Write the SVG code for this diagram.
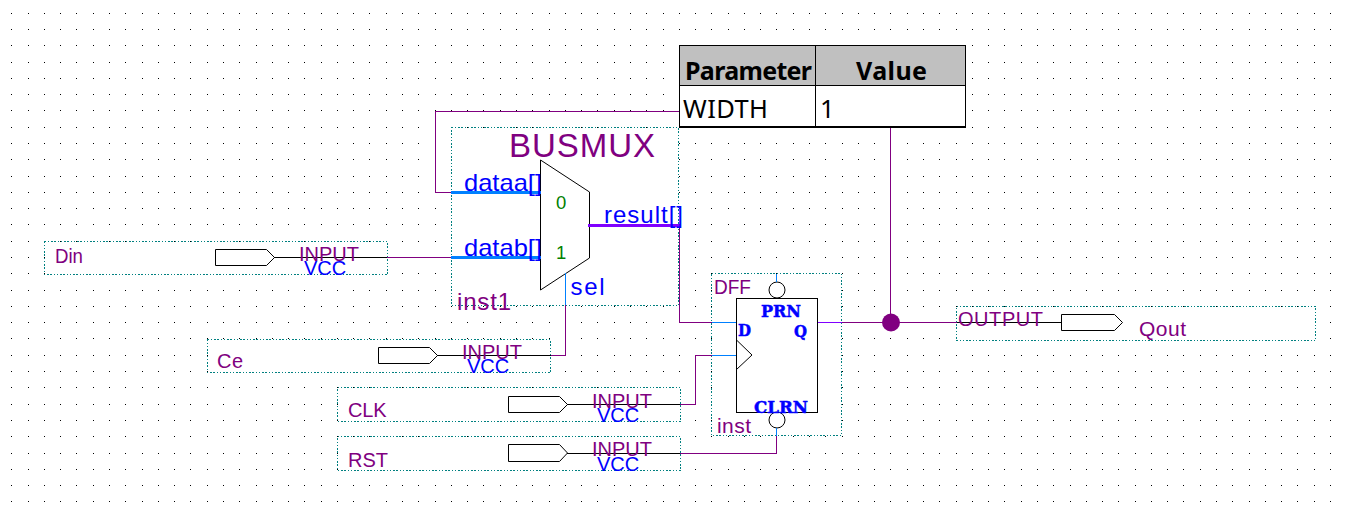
<svg xmlns="http://www.w3.org/2000/svg" width="1345" height="508" viewBox="0 0 1345 508">
<style>
text{font-family:"Liberation Sans",Arial,sans-serif;white-space:pre}
.box{fill:#fff;stroke:#008080;stroke-width:1;stroke-dasharray:1.5 1.75;shape-rendering:crispEdges}
.sym{fill:#fff;stroke:#000;stroke-width:1}
.ln{fill:none;stroke:#000;stroke-width:1}
.w{fill:none;stroke:#800080;stroke-width:1;shape-rendering:crispEdges}
.k{fill:none;stroke:#000;stroke-width:1;shape-rendering:crispEdges}
.b{fill:none;stroke:#0080ff;stroke-width:1;shape-rendering:crispEdges}
.bb{fill:none;stroke:#0080ff;stroke-width:3;shape-rendering:crispEdges}
.vb{fill:none;stroke:#8000ff;stroke-width:3;shape-rendering:crispEdges}
.v{fill:none;stroke:#8000ff;stroke-width:1;shape-rendering:crispEdges}
.p{fill:#800080;font-size:20px}
.u{fill:#0000ff;font-size:20px}
.port{fill:#0000ff;font-size:24px}
.g{fill:#008000;font-size:18.5px}
.m{fill:#0000ff;stroke:#0000ff;stroke-width:.5;font-family:"DejaVu Serif",serif;font-weight:700;font-size:17px}
.tb{fill:#000;font-family:"Noto Sans",sans-serif;font-size:25px;font-weight:700}
.t{fill:#000;font-family:"Noto Sans",sans-serif;font-size:25.5px}
</style>
<rect width="1345" height="508" fill="#fff"/>
<path id="grid" fill="none" stroke="#000" stroke-width="1" stroke-dasharray="1 15.28" shape-rendering="crispEdges" d="M11.3 13.5H1332M11.3 29.5H1332M11.3 45.5H1332M11.3 62.5H1332M11.3 78.5H1332M11.3 94.5H1332M11.3 110.5H1332M11.3 127.5H1332M11.3 143.5H1332M11.3 159.5H1332M11.3 176.5H1332M11.3 192.5H1332M11.3 208.5H1332M11.3 224.5H1332M11.3 241.5H1332M11.3 257.5H1332M11.3 273.5H1332M11.3 290.5H1332M11.3 306.5H1332M11.3 322.5H1332M11.3 338.5H1332M11.3 355.5H1332M11.3 371.5H1332M11.3 387.5H1332M11.3 404.5H1332M11.3 420.5H1332M11.3 436.5H1332M11.3 453.5H1332M11.3 469.5H1332M11.3 485.5H1332M11.3 501.5H1332"/>

<g id="node-din">
<rect class="box" x="44.5" y="241.5" width="343" height="33"/>
<path class="sym" d="M215.5 249.5H266.5L274.5 257.5L266.5 265.5H215.5Z"/>
<text class="p" x="55" y="262.5" style="font-size:21px" textLength="28" lengthAdjust="spacingAndGlyphs">Din</text>
</g>
<g id="node-ce">
<rect class="box" x="207.5" y="339.5" width="343" height="33"/>
<path class="sym" d="M378.5 347.5H429.5L437.5 355.5L429.5 363.5H378.5Z"/>
<text class="p" x="217" y="368" textLength="26" lengthAdjust="spacing">Ce</text>
</g>
<g id="node-clk">
<rect class="box" x="337.5" y="387.5" width="343" height="34"/>
<path class="sym" d="M508.5 396.5H559.5L567.5 404.5L559.5 412.5H508.5Z"/>
<text class="p" x="348" y="417" textLength="38.500" lengthAdjust="spacing">CLK</text>
</g>
<g id="node-rst">
<rect class="box" x="337.5" y="436.5" width="343" height="34"/>
<path class="sym" d="M508.5 444.5H559.5L567.5 453L559.5 461.5H508.5Z"/>
<text class="p" x="348" y="466.500" textLength="40" lengthAdjust="spacing">RST</text>
</g>
<g id="node-qout">
<rect class="box" x="956.5" y="306.5" width="359" height="34"/>
<path class="sym" d="M1061.5 314.5H1114.5L1122.5 322.5L1114.5 330.5H1061.5Z"/>
<text class="p" x="1139" y="336" style="font-size:21px" textLength="47" lengthAdjust="spacing">Qout</text>
</g>
<g id="node-busmux">
<rect class="box" x="451.5" y="127.5" width="227" height="178"/>
<path class="ln" d="M540.5 160L589.5 192V258L540.5 290Z"/>
</g>
<g id="node-dff">
<rect class="box" x="711.5" y="273.5" width="130" height="162"/>
<rect class="sym" x="736.5" y="298.5" width="81" height="114"/>
<path class="ln" d="M736.5 340L752 355L736.5 369.5"/>
<circle class="sym" cx="777" cy="290" r="8"/>
<circle class="sym" cx="777" cy="420" r="8"/>
</g>

<g id="connectors">
<path class="w" d="M679 111.500H435.500V192.500H451"/>
<path class="k" d="M274 257.500H387"/>
<path class="w" d="M387 257.500H451"/>
<path class="k" d="M437 355.500H551"/>
<path class="w" d="M551 355.500H565.500V305"/>
<path class="b" d="M565.500 305V273"/>
<path class="k" d="M567 404.500H680"/>
<path class="w" d="M680 404.500H695.500V355.500H712"/>
<path class="b" d="M712 355.500H736"/>
<path class="k" d="M567 453.500H680"/>
<path class="w" d="M680 453.500H776.500V436"/>
<path class="b" d="M776.500 436V428"/>
<path class="b" d="M776.500 282V273.500"/>
<path class="w" d="M679.500 226V322.500H712"/>
<path class="b" d="M712 322.500H736"/>
<path class="v" d="M818 322.500H842"/>
<path class="w" d="M842 322.500H957"/>
<path class="k" d="M957 322.500H1061"/>
<path class="w" d="M890.500 128V322"/>
<circle cx="891" cy="322.500" r="9" fill="#800080"/>
<path class="bb" d="M451 192.500H541"/>
<path class="bb" d="M451 257.500H541"/>
<path class="vb" d="M588 225.500H681"/>
</g>

<g id="labels">
<text class="p" x="299" y="261">INPUT</text>
<text class="u" x="304" y="275">VCC</text>
<text class="p" x="462" y="359">INPUT</text>
<text class="u" x="467" y="373">VCC</text>
<text class="p" x="592" y="408">INPUT</text>
<text class="u" x="597" y="422">VCC</text>
<text class="p" x="592" y="456">INPUT</text>
<text class="u" x="597" y="471">VCC</text>
<text class="p" x="958" y="326" textLength="85" lengthAdjust="spacing">OUTPUT</text>
<text x="509" y="157" fill="#800080" font-size="33" textLength="146" lengthAdjust="spacing">BUSMUX</text>
<text class="port" x="464" y="190.500" textLength="78" lengthAdjust="spacingAndGlyphs">dataa[]</text>
<text class="port" x="464" y="256" textLength="78" lengthAdjust="spacingAndGlyphs">datab[]</text>
<text class="port" x="604" y="223" textLength="79" lengthAdjust="spacing">result[]</text>
<text class="port" x="570.500" y="295" textLength="34" lengthAdjust="spacing">sel</text>
<text class="g" x="556" y="209">0</text>
<text class="g" x="556" y="259">1</text>
<text x="457" y="310" fill="#800080" font-size="24" textLength="54" lengthAdjust="spacing">inst1</text>
<text x="714" y="293.500" fill="#800080" font-size="20.500" textLength="37" lengthAdjust="spacingAndGlyphs">DFF</text>
<text x="717" y="433" fill="#800080" font-size="21" textLength="34" lengthAdjust="spacing">inst</text>
<text class="m" x="761" y="317" textLength="40" lengthAdjust="spacingAndGlyphs">PRN</text>
<text class="m" x="738" y="336" textLength="13" lengthAdjust="spacingAndGlyphs">D</text>
<text class="m" x="794" y="337" textLength="13" lengthAdjust="spacingAndGlyphs">Q</text>
<text class="m" x="754" y="413" textLength="54" lengthAdjust="spacingAndGlyphs">CLRN</text>
</g>

<g id="node-params">
<rect x="679.500" y="45.500" width="286" height="82" fill="#fff"/>
<rect x="679.500" y="45.500" width="286" height="40" fill="#c0c0c0"/>
<path class="k" d="M679.500 85.500H965.500M815.500 45.500V127"/>
<path class="k" d="M679.500 127V45.500H965.500V127"/>
<path fill="none" stroke="#000" stroke-width="2" shape-rendering="crispEdges" d="M679 127H966"/>
<text class="tb" x="685" y="80" textLength="127" lengthAdjust="spacing">Parameter</text>
<text class="tb" x="856" y="80" textLength="71" lengthAdjust="spacing">Value</text>
<text class="t" x="683" y="118" textLength="85" lengthAdjust="spacing">WIDTH</text>
<text class="t" x="820" y="118">1</text>
</g>
</svg>
